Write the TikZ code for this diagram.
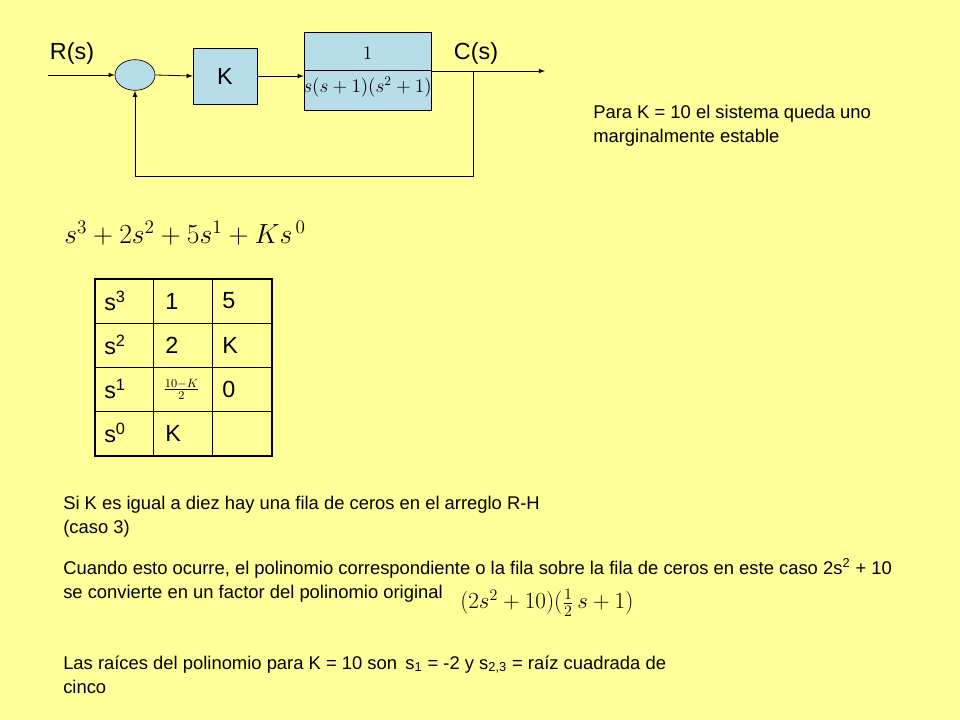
\documentclass[tikz,border=0pt]{standalone}
\usepackage{fontspec}
\setsansfont{Liberation Sans}
\usepackage{amsmath}
\usetikzlibrary{shapes.geometric}
\definecolor{bg}{HTML}{FFFF99}
\definecolor{blk}{HTML}{B7DDE8}
\begin{document}
\begin{tikzpicture}[x=0.75pt,y=-0.75pt,
  blkbox/.style={draw,fill=blk,line width=0.5pt,inner sep=0pt},
  sig/.style={-latex,line width=0.6pt},
  txt/.style={anchor=base west,font=\sffamily\fontsize{13.8}{16}\selectfont,inner sep=0pt},
  lab/.style={font=\sffamily\fontsize{17.5}{20}\selectfont,inner sep=0pt}]
\fill[bg] (0,0) rectangle (960,720);
\useasboundingbox (0,0) rectangle (960,720);
% block diagram
\node[blkbox,ellipse,minimum width=30pt,minimum height=23pt] (sum) at (135,75) {};
\node[blkbox,minimum width=48pt,minimum height=42pt,lab] (K) at (225,76) {K};
\node[blkbox,minimum width=95pt,minimum height=58pt] (G) at (367.5,71.5) {};
\draw[line width=0.5pt] (304,70) coordinate (dl) -- (431,70) coordinate (dr);
\node at (367.5,53) {\fontsize{15}{18}\selectfont$1$};
\node at (367.5,87) {\fontsize{14}{18}\selectfont$s(s+1)(s^2+1)$};
\coordinate (in) at (48,75);
\coordinate (out) at (545,71);
\coordinate (tap) at (473,71);
\coordinate (fb1) at (473,176);
\coordinate (fb2) at (135,176);
\draw[sig] (in) -- (sum.west);
\draw[sig] (sum.east) -- (K.west);
\draw[sig] (K.east) -- (G.west|-K.east);
\draw[sig] (G.east|-out) -- (out);
\draw[sig] (tap) -- (fb1) -- (fb2) -- (sum.south);
\node[lab] (R) at (72,53) {R(s)};
\node[lab] (C) at (476,53) {C(s)};
\node[txt] (p1) at (593,119) {Para K = 10 el sistema queda uno};
\node[txt] (p2) at (593,143) {marginalmente estable};
% polynomial
\node[anchor=west,inner sep=0pt] (poly) at (64,233) {\fontsize{20}{24}\selectfont$s^3+2s^2+5s^1+Ks^{\,0}$};
% table
\draw[line width=0.5pt] (153,279) -- (153,456) (212,279) -- (212,456)
  (95,323) -- (272,323) (95,367) -- (272,367) (95,411) -- (272,411);
\draw[line width=1.6pt] (95,279) rectangle (272,456);
\foreach \r/\a/\b [count=\i] in {3/1/5,2/2/K,1/{}/0,0/K/{}}{
  \node[lab,anchor=west] (c\i a) at (104,301+44*\i-44) {s\textsuperscript{\r}};
  \node[lab,anchor=west] (c\i b) at (165,301+44*\i-44) {\a};
  \node[lab,anchor=west] (c\i c) at (222,301+44*\i-44) {\b};
}
\node[anchor=west,inner sep=0pt] (frac) at (163,389) {\fontsize{13}{15}\selectfont$\frac{10-K}{2}$};
% texts
\node[txt] (t1) at (63,509) {Si K es igual a diez hay una fila de ceros en el arreglo R-H};
\node[txt] (t2) at (63,533) {(caso 3)};
\node[txt] (t3) at (63,574) {Cuando esto ocurre, el polinomio correspondiente o la fila sobre la fila de ceros en este caso 2s\textsuperscript{2} + 10};
\node[txt] (t4) at (63,598) {se convierte en un factor del polinomio original};
\node[anchor=west,inner sep=0pt] (fac) at (460,603) {\fontsize{18}{22}\selectfont$(2s^2+10)(\tfrac{1}{2}\,s+1)$};
\node[txt] (t5) at (63,669) {Las raíces del polinomio para K = 10 son\, s\textsubscript{1} = -2 y s\textsubscript{2,3} = raíz cuadrada de};
\node[txt] (t6) at (63,693) {cinco};
\end{tikzpicture}
\end{document}
